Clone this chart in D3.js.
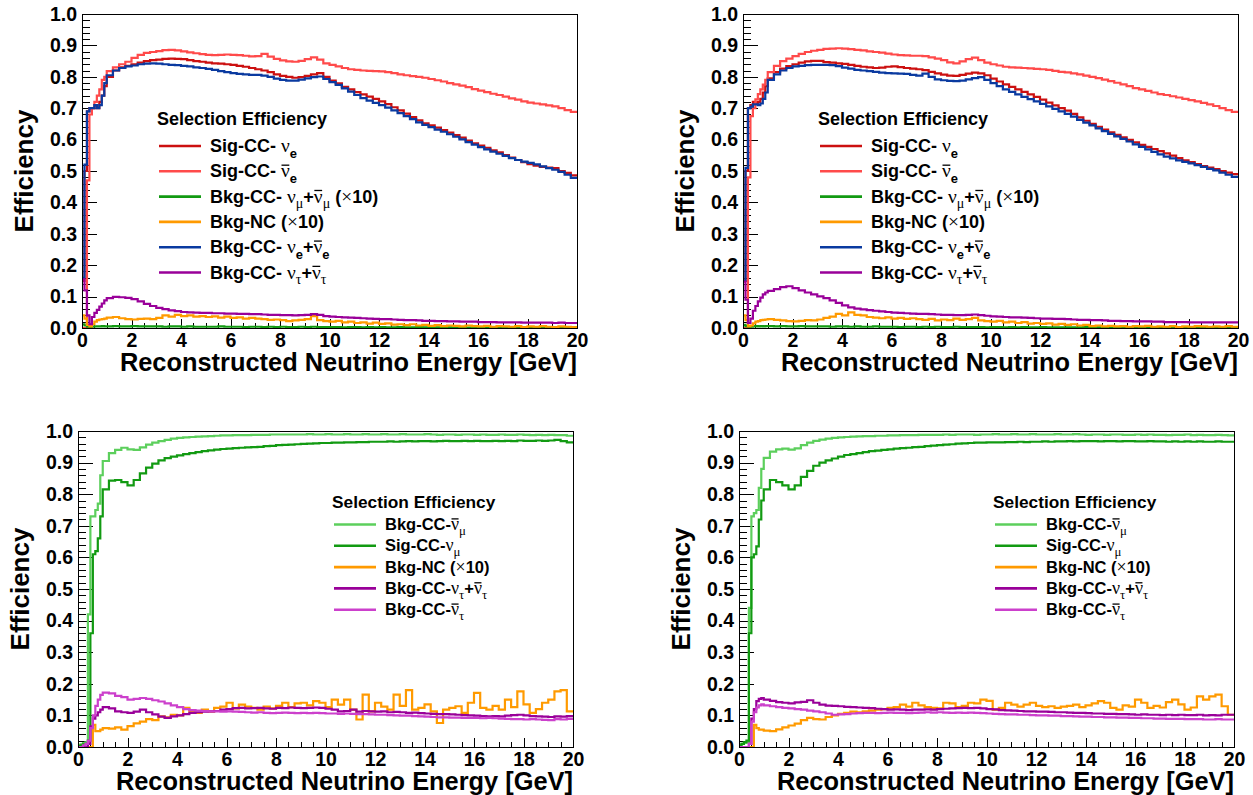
<!DOCTYPE html>
<html><head><meta charset="utf-8">
<script src="https://cdn.jsdelivr.net/npm/d3@7"></script>
<style>
html,body{margin:0;padding:0;background:#fff;}
svg{display:block;}
text{font-family:"Liberation Sans",Arial,Helvetica,sans-serif;}
</style></head><body>
<svg id="c" width="1253" height="795"></svg>
<script>
// ---------------- DATA ----------------
const binEdges = [0,0.1,0.2,0.3,0.4,0.5,0.6,0.7,0.8,0.9,1,
1.25,1.5,1.75,2,2.25,2.5,2.75,3,
3.25,3.5,3.75,4,4.25,4.5,4.75,5,
5.25,5.5,5.75,6,6.25,6.5,6.75,7,
7.25,7.5,7.75,8,8.25,8.5,8.75,9,
9.25,9.5,9.75,10,10.25,10.5,10.75,11,
11.25,11.5,11.75,12,12.25,12.5,12.75,13,
13.25,13.5,13.75,14,14.25,14.5,14.75,15,
15.25,15.5,15.75,16,16.25,16.5,16.75,17,
17.25,17.5,17.75,18,18.25,18.5,18.75,19,
19.25,19.5,19.75,20];

const xTickValues = [0,2,4,6,8,10,12,14,16,18,20];
const xTickLabels = ["0","2","4","6","8","10","12","14","16","18","20"];
const yTickValues = [0,0.1,0.2,0.3,0.4,0.5,0.6,0.7,0.8,0.9,1.0];
const yTickLabels = ["0.0","0.1","0.2","0.3","0.4","0.5","0.6","0.7","0.8","0.9","1.0"];

// Panel 1 (top-left)
const p1SigNue = [0.15,0.50,0.69,0.70,0.70,0.71,0.70,0.72,0.74,0.77,
0.800,0.820,0.830,0.835,0.840,0.845,0.850,0.853,
0.855,0.857,0.858,0.857,0.856,0.853,0.850,0.848,
0.845,0.843,0.842,0.840,0.838,0.835,0.832,0.828,
0.824,0.820,0.815,0.808,0.803,0.800,0.797,0.799,
0.803,0.808,0.812,0.800,0.788,0.779,0.768,0.760,
0.751,0.744,0.737,0.730,0.722,0.713,0.703,0.693,
0.683,0.672,0.661,0.652,0.645,0.638,0.630,0.622,
0.614,0.606,0.597,0.588,0.581,0.574,0.566,0.559,
0.551,0.543,0.535,0.528,0.522,0.517,0.513,0.511,
0.509,0.500,0.494,0.486];
const p1SigNuebar = [0,0,0.47,0.68,0.70,0.72,0.74,0.76,0.79,0.80,
0.818,0.830,0.840,0.848,0.860,0.870,0.876,0.879,
0.882,0.885,0.886,0.884,0.881,0.878,0.875,0.872,
0.870,0.869,0.870,0.871,0.870,0.869,0.867,0.865,
0.866,0.873,0.864,0.857,0.852,0.849,0.848,0.851,
0.856,0.862,0.855,0.843,0.838,0.833,0.828,0.824,
0.822,0.820,0.819,0.818,0.817,0.815,0.812,0.808,
0.805,0.802,0.800,0.797,0.793,0.789,0.785,0.780,
0.776,0.772,0.767,0.761,0.756,0.751,0.746,0.742,
0.737,0.731,0.727,0.722,0.718,0.715,0.712,0.709,
0.706,0.700,0.694,0.688];
const p1BkgNumu = [0.012,0.008,0.004,0.003,0.004,0.005,0.005,0.005,0.006,0.005,
0.005,0.006,0.005,0.005,0.006,0.005,0.005,0.005,
0.005,0.004,0.005,0.005,0.004,0.005,0.004,0.004,
0.004,0.004,0.005,0.004,0.004,0.004,0.003,0.004,
0.004,0.003,0.004,0.003,0.004,0.003,0.003,0.004,
0.003,0.004,0.003,0.003,0.003,0.003,0.002,0.003,
0.003,0.002,0.003,0.002,0.003,0.002,0.002,0.003,
0.002,0.002,0.003,0.002,0.002,0.002,0.002,0.002,
0.002,0.002,0.001,0.002,0.002,0.001,0.002,0.002,
0.001,0.002,0.002,0.001,0.002,0.001,0.002,0.001,
0.002,0.001,0.002,0.001];
const p1BkgNC = [0.04,0.03,0.01,0.005,0.012,0.02,0.025,0.027,0.028,0.030,
0.033,0.035,0.031,0.028,0.027,0.029,0.030,0.028,
0.032,0.040,0.036,0.042,0.038,0.040,0.036,0.038,
0.035,0.037,0.033,0.036,0.032,0.034,0.030,0.032,
0.030,0.028,0.026,0.027,0.025,0.022,0.024,0.026,
0.028,0.038,0.025,0.022,0.020,0.023,0.018,0.020,
0.016,0.018,0.014,0.017,0.013,0.015,0.011,0.012,
0.009,0.012,0.008,0.010,0.007,0.009,0.006,0.008,
0.007,0.005,0.008,0.006,0.005,0.007,0.004,0.006,
0.005,0.004,0.006,0.003,0.005,0.004,0.006,0.004,
0.003,0.005,0.004,0.003];
const p1BkgNue = [0.16,0.52,0.69,0.70,0.70,0.71,0.70,0.71,0.74,0.78,
0.805,0.820,0.828,0.833,0.836,0.840,0.842,0.843,
0.842,0.840,0.838,0.837,0.835,0.833,0.830,0.828,
0.825,0.822,0.818,0.815,0.812,0.809,0.808,0.806,
0.806,0.804,0.800,0.794,0.790,0.788,0.788,0.791,
0.795,0.799,0.801,0.793,0.783,0.774,0.763,0.753,
0.742,0.732,0.724,0.717,0.710,0.702,0.693,0.684,
0.675,0.665,0.655,0.647,0.640,0.632,0.625,0.617,
0.609,0.601,0.592,0.584,0.576,0.569,0.562,0.555,
0.548,0.541,0.535,0.530,0.526,0.521,0.515,0.509,
0.504,0.497,0.488,0.478];
const p1BkgNutau = [0.155,0.12,0.04,0.012,0.035,0.048,0.058,0.068,0.078,0.088,
0.095,0.099,0.098,0.096,0.092,0.085,0.077,0.070,
0.064,0.060,0.056,0.054,0.051,0.050,0.049,0.048,
0.048,0.047,0.047,0.046,0.046,0.045,0.045,0.044,
0.044,0.043,0.042,0.042,0.041,0.041,0.040,0.041,
0.042,0.044,0.042,0.038,0.036,0.035,0.034,0.033,
0.032,0.031,0.030,0.029,0.028,0.028,0.027,0.026,
0.025,0.025,0.024,0.023,0.023,0.022,0.022,0.021,
0.021,0.020,0.020,0.020,0.019,0.019,0.019,0.018,
0.018,0.018,0.018,0.017,0.017,0.017,0.017,0.017,
0.016,0.017,0.016,0.016];

// Panel 2 (top-right)
const p2SigNue = [0.15,0.50,0.70,0.71,0.72,0.715,0.72,0.73,0.75,0.77,
0.795,0.815,0.826,0.834,0.840,0.845,0.849,0.851,
0.851,0.847,0.845,0.843,0.841,0.838,0.835,0.832,
0.830,0.828,0.829,0.832,0.833,0.831,0.828,0.826,
0.824,0.821,0.816,0.811,0.807,0.804,0.803,0.806,
0.810,0.813,0.811,0.805,0.794,0.785,0.776,0.768,
0.760,0.752,0.744,0.736,0.727,0.718,0.709,0.700,
0.692,0.682,0.671,0.660,0.650,0.641,0.632,0.623,
0.615,0.607,0.599,0.591,0.583,0.577,0.570,0.563,
0.556,0.549,0.541,0.534,0.528,0.522,0.516,0.511,
0.506,0.500,0.495,0.490];
const p2SigNuebar = [0,0,0.48,0.675,0.70,0.728,0.745,0.76,0.775,0.79,
0.815,0.835,0.850,0.858,0.866,0.873,0.879,0.883,
0.886,0.889,0.890,0.891,0.890,0.888,0.886,0.884,
0.881,0.879,0.877,0.874,0.871,0.869,0.868,0.867,
0.867,0.866,0.862,0.858,0.853,0.846,0.843,0.849,
0.856,0.861,0.853,0.845,0.840,0.836,0.832,0.830,
0.829,0.828,0.827,0.825,0.824,0.822,0.819,0.816,
0.814,0.811,0.808,0.804,0.800,0.796,0.791,0.786,
0.781,0.776,0.770,0.764,0.760,0.755,0.750,0.745,
0.742,0.738,0.734,0.730,0.726,0.722,0.717,0.712,
0.707,0.700,0.694,0.688];
const p2BkgNumu = [0.01,0.006,0.003,0.004,0.005,0.006,0.005,0.006,0.005,0.006,
0.006,0.005,0.006,0.005,0.005,0.006,0.005,0.005,
0.005,0.005,0.004,0.005,0.005,0.004,0.005,0.004,
0.004,0.005,0.004,0.004,0.004,0.003,0.004,0.004,
0.003,0.004,0.003,0.004,0.003,0.003,0.004,0.003,
0.003,0.003,0.003,0.002,0.003,0.003,0.002,0.003,
0.002,0.003,0.002,0.002,0.003,0.002,0.002,0.002,
0.002,0.002,0.002,0.003,0.002,0.002,0.001,0.002,
0.002,0.001,0.002,0.002,0.001,0.002,0.002,0.001,
0.002,0.001,0.002,0.001,0.001,0.002,0.001,0.002,
0.001,0.002,0.001,0.001];
const p2BkgNC = [0.04,0.025,0.005,0.008,0.015,0.02,0.022,0.025,0.026,0.027,
0.028,0.026,0.024,0.022,0.021,0.023,0.025,0.024,
0.027,0.032,0.036,0.045,0.040,0.050,0.042,0.040,
0.035,0.033,0.031,0.034,0.030,0.032,0.029,0.031,
0.028,0.026,0.029,0.024,0.027,0.025,0.030,0.026,
0.028,0.032,0.024,0.022,0.020,0.023,0.018,0.020,
0.016,0.019,0.014,0.016,0.013,0.015,0.011,0.013,
0.010,0.012,0.008,0.010,0.006,0.008,0.005,0.007,
0.005,0.006,0.004,0.006,0.005,0.007,0.004,0.005,
0.004,0.006,0.003,0.005,0.004,0.006,0.005,0.004,
0.005,0.004,0.006,0.004];
const p2BkgNue = [0.15,0.51,0.70,0.705,0.712,0.712,0.71,0.715,0.73,0.75,
0.790,0.808,0.820,0.828,0.833,0.835,0.837,0.838,
0.838,0.838,0.837,0.834,0.829,0.826,0.822,0.820,
0.818,0.816,0.813,0.812,0.811,0.810,0.809,0.806,
0.804,0.810,0.800,0.792,0.789,0.787,0.786,0.788,
0.792,0.796,0.799,0.790,0.780,0.770,0.760,0.752,
0.744,0.736,0.729,0.722,0.714,0.706,0.698,0.690,
0.682,0.673,0.663,0.654,0.645,0.636,0.627,0.618,
0.610,0.602,0.594,0.585,0.577,0.569,0.561,0.553,
0.546,0.540,0.534,0.529,0.524,0.519,0.513,0.507,
0.502,0.495,0.488,0.481];
const p2BkgNutau = [0.148,0.09,0.016,0.03,0.055,0.07,0.085,0.097,0.107,0.113,
0.118,0.124,0.130,0.133,0.127,0.120,0.113,0.107,
0.101,0.095,0.088,0.080,0.072,0.066,0.062,0.059,
0.057,0.055,0.053,0.051,0.049,0.048,0.047,0.046,
0.045,0.045,0.044,0.043,0.042,0.042,0.041,0.041,
0.042,0.043,0.041,0.039,0.037,0.036,0.035,0.034,
0.034,0.033,0.032,0.031,0.030,0.030,0.029,0.029,
0.028,0.027,0.026,0.026,0.025,0.025,0.024,0.023,
0.023,0.022,0.022,0.021,0.021,0.021,0.020,0.020,
0.019,0.019,0.019,0.019,0.018,0.018,0.018,0.018,
0.018,0.018,0.018,0.018];

// Panel 3 (bottom-left)
const p3BkgNumubar = [0.005,0.008,0.012,0.015,0.42,0.73,0.73,0.75,0.77,0.86,
0.905,0.930,0.940,0.947,0.942,0.940,0.948,0.957,
0.963,0.968,0.972,0.976,0.978,0.980,0.981,0.982,
0.983,0.984,0.985,0.986,0.986,0.987,0.987,0.987,
0.988,0.988,0.988,0.989,0.989,0.989,0.989,0.989,
0.989,0.990,0.989,0.989,0.990,0.989,0.989,0.990,
0.989,0.989,0.990,0.989,0.989,0.990,0.989,0.989,
0.990,0.989,0.989,0.989,0.990,0.989,0.988,0.989,
0.989,0.988,0.989,0.989,0.988,0.989,0.988,0.988,
0.989,0.988,0.988,0.989,0.988,0.987,0.988,0.987,
0.988,0.987,0.987,0.985];
const p3SigNumu = [0.003,0.005,0.008,0.01,0.02,0.36,0.61,0.62,0.66,0.73,
0.815,0.843,0.845,0.838,0.828,0.845,0.866,0.884,
0.897,0.907,0.914,0.919,0.923,0.927,0.930,0.933,
0.936,0.939,0.941,0.943,0.944,0.946,0.947,0.948,
0.949,0.950,0.952,0.953,0.955,0.956,0.957,0.958,
0.959,0.960,0.961,0.962,0.962,0.963,0.963,0.964,
0.964,0.965,0.965,0.966,0.966,0.966,0.967,0.966,
0.967,0.968,0.967,0.968,0.968,0.967,0.968,0.969,
0.968,0.968,0.969,0.968,0.969,0.968,0.968,0.969,
0.968,0.969,0.968,0.970,0.969,0.969,0.970,0.969,
0.970,0.972,0.968,0.964];
const p3BkgNC = [0,0,0,0,0,0,0.07,0.05,0.05,0.055,
0.060,0.058,0.062,0.055,0.066,0.075,0.080,0.088,
0.085,0.097,0.094,0.102,0.100,0.124,0.113,0.108,
0.118,0.112,0.124,0.128,0.140,0.122,0.134,0.128,
0.124,0.118,0.128,0.122,0.130,0.140,0.126,0.138,
0.140,0.132,0.145,0.140,0.126,0.150,0.134,0.150,
0.118,0.087,0.166,0.113,0.140,0.128,0.118,0.166,
0.130,0.180,0.118,0.124,0.135,0.113,0.076,0.118,
0.124,0.129,0.108,0.140,0.171,0.124,0.118,0.130,
0.118,0.150,0.126,0.176,0.135,0.108,0.120,0.140,
0.150,0.176,0.180,0.113];
const p3BkgNutau = [0,0,0,0,0.01,0.065,0.09,0.10,0.11,0.118,
0.126,0.122,0.113,0.110,0.108,0.112,0.118,0.110,
0.103,0.096,0.092,0.097,0.100,0.104,0.108,0.110,
0.112,0.113,0.114,0.118,0.120,0.123,0.124,0.122,
0.123,0.124,0.122,0.121,0.124,0.123,0.125,0.124,
0.123,0.124,0.125,0.124,0.121,0.118,0.113,0.114,
0.118,0.112,0.114,0.113,0.112,0.113,0.110,0.111,
0.110,0.108,0.109,0.107,0.106,0.105,0.104,0.104,
0.103,0.102,0.101,0.100,0.099,0.098,0.097,0.098,
0.097,0.099,0.101,0.102,0.100,0.098,0.097,0.096,
0.095,0.097,0.096,0.098];
const p3BkgNutaubar = [0,0,0.005,0.01,0.02,0.06,0.10,0.13,0.15,0.165,
0.172,0.170,0.162,0.158,0.150,0.152,0.155,0.152,
0.148,0.144,0.138,0.132,0.126,0.120,0.117,0.115,
0.114,0.113,0.113,0.112,0.113,0.112,0.111,0.110,
0.109,0.110,0.108,0.107,0.108,0.109,0.108,0.107,
0.108,0.107,0.108,0.107,0.106,0.106,0.105,0.106,
0.105,0.104,0.104,0.103,0.102,0.102,0.101,0.100,
0.099,0.099,0.098,0.097,0.096,0.095,0.094,0.094,
0.093,0.093,0.092,0.092,0.092,0.091,0.092,0.091,
0.090,0.089,0.088,0.088,0.087,0.088,0.087,0.086,
0.085,0.088,0.087,0.089];

// Panel 4 (bottom-right)
const p4BkgNumubar = [0.005,0.01,0.013,0.015,0.44,0.73,0.74,0.75,0.82,0.88,
0.915,0.935,0.942,0.944,0.941,0.945,0.955,0.963,
0.969,0.973,0.976,0.978,0.980,0.981,0.982,0.983,
0.984,0.984,0.985,0.985,0.986,0.986,0.987,0.987,
0.987,0.988,0.988,0.988,0.988,0.989,0.988,0.989,
0.989,0.989,0.988,0.989,0.989,0.990,0.989,0.989,
0.990,0.989,0.989,0.990,0.989,0.989,0.989,0.990,
0.989,0.989,0.990,0.989,0.988,0.989,0.989,0.988,
0.989,0.989,0.988,0.988,0.989,0.988,0.989,0.988,
0.988,0.987,0.988,0.988,0.989,0.987,0.988,0.987,
0.987,0.988,0.987,0.986];
const p4SigNumu = [0.005,0.01,0.015,0.02,0.36,0.60,0.61,0.635,0.72,0.78,
0.815,0.845,0.838,0.828,0.815,0.828,0.855,0.874,
0.890,0.900,0.907,0.913,0.919,0.924,0.927,0.930,
0.933,0.936,0.938,0.940,0.942,0.944,0.946,0.947,
0.949,0.950,0.952,0.954,0.955,0.957,0.958,0.960,
0.961,0.962,0.963,0.963,0.964,0.964,0.964,0.965,
0.965,0.966,0.965,0.966,0.966,0.967,0.966,0.967,
0.967,0.968,0.967,0.968,0.968,0.968,0.967,0.968,
0.968,0.967,0.968,0.968,0.967,0.967,0.968,0.967,
0.967,0.966,0.967,0.966,0.967,0.966,0.967,0.966,
0.966,0.967,0.966,0.966];
const p4BkgNC = [0,0,0,0,0,0,0.07,0.06,0.055,0.055,
0.052,0.050,0.056,0.062,0.068,0.074,0.085,0.092,
0.088,0.087,0.095,0.100,0.105,0.108,0.112,0.110,
0.113,0.115,0.118,0.120,0.124,0.126,0.134,0.128,
0.140,0.132,0.126,0.124,0.122,0.140,0.138,0.126,
0.130,0.140,0.138,0.150,0.146,0.118,0.124,0.140,
0.134,0.128,0.134,0.140,0.130,0.126,0.129,0.124,
0.128,0.130,0.134,0.126,0.132,0.138,0.145,0.140,
0.124,0.118,0.132,0.128,0.150,0.140,0.124,0.130,
0.125,0.142,0.150,0.135,0.118,0.125,0.160,0.150,
0.160,0.166,0.129,0.102];
const p4BkgNutau = [0,0,0,0,0.01,0.09,0.12,0.145,0.152,0.155,
0.150,0.146,0.142,0.140,0.138,0.141,0.143,0.148,
0.140,0.134,0.131,0.130,0.129,0.127,0.126,0.125,
0.124,0.123,0.121,0.120,0.118,0.119,0.118,0.117,
0.118,0.118,0.119,0.118,0.120,0.121,0.122,0.123,
0.124,0.123,0.124,0.122,0.120,0.119,0.117,0.116,
0.115,0.114,0.113,0.113,0.112,0.112,0.111,0.110,
0.110,0.109,0.108,0.108,0.107,0.106,0.106,0.105,
0.105,0.104,0.104,0.103,0.102,0.103,0.102,0.102,
0.101,0.102,0.101,0.102,0.101,0.101,0.102,0.100,
0.101,0.100,0.102,0.102];
const p4BkgNutaubar = [0,0,0,0,0.01,0.08,0.11,0.125,0.132,0.135,
0.132,0.129,0.126,0.124,0.122,0.120,0.118,0.115,
0.113,0.110,0.106,0.102,0.103,0.104,0.106,0.107,
0.108,0.108,0.107,0.108,0.109,0.108,0.108,0.107,
0.108,0.109,0.110,0.109,0.110,0.109,0.108,0.109,
0.108,0.109,0.108,0.107,0.106,0.105,0.104,0.103,
0.103,0.102,0.102,0.101,0.100,0.100,0.099,0.099,
0.098,0.098,0.097,0.096,0.096,0.095,0.095,0.094,
0.094,0.093,0.093,0.092,0.092,0.091,0.091,0.090,
0.090,0.089,0.089,0.089,0.088,0.088,0.088,0.087,
0.087,0.088,0.087,0.087];

// Legend labels (segments: g = greek glyph, s = subscript, bar = overline)
const legendTitle = "Selection Efficiency";
const labSigNue = [{t:"Sig-CC- "},{t:"ν",g:1},{t:"e",s:1}];
const labSigNuebar = [{t:"Sig-CC- "},{t:"ν",g:1,bar:1},{t:"e",s:1}];
const labBkgNumuX10 = [{t:"Bkg-CC- "},{t:"ν",g:1},{t:"μ",g:1,s:1},{t:"+"},{t:"ν",g:1,bar:1},{t:"μ",g:1,s:1},{t:" ("},{t:"×",g:1},{t:"10)"}];
const labBkgNC = [{t:"Bkg-NC ("},{t:"×",g:1},{t:"10)"}];
const labBkgNue = [{t:"Bkg-CC- "},{t:"ν",g:1},{t:"e",s:1},{t:"+"},{t:"ν",g:1,bar:1},{t:"e",s:1}];
const labBkgNutau = [{t:"Bkg-CC- "},{t:"ν",g:1},{t:"τ",g:1,s:1},{t:"+"},{t:"ν",g:1,bar:1},{t:"τ",g:1,s:1}];
const labBkgNumubar = [{t:"Bkg-CC-"},{t:"ν",g:1,bar:1},{t:"μ",g:1,s:1}];
const labSigNumu = [{t:"Sig-CC-"},{t:"ν",g:1},{t:"μ",g:1,s:1}];
const labBkgNCb = [{t:"Bkg-NC ("},{t:"×",g:1},{t:"10)"}];
const labBkgNutauB = [{t:"Bkg-CC-"},{t:"ν",g:1},{t:"τ",g:1,s:1},{t:"+"},{t:"ν",g:1,bar:1},{t:"τ",g:1,s:1}];
const labBkgNutaubar = [{t:"Bkg-CC-"},{t:"ν",g:1,bar:1},{t:"τ",g:1,s:1}];

// colours
const cDarkRed="#cc1010", cLightRed="#ff4a4a", cGreen="#129a12", cOrange="#ff9a00",
      cBlue="#0a3aa0", cPurple="#990099", cLightGreen="#5ccf5c", cMagenta="#cc40cc";

// ---------------- LAYOUT ----------------
const topSeries = (a,b,c,d,e,f)=>[
  {v:a,col:cDarkRed,lab:labSigNue},{v:b,col:cLightRed,lab:labSigNuebar},
  {v:c,col:cGreen,lab:labBkgNumuX10},{v:d,col:cOrange,lab:labBkgNC},
  {v:e,col:cBlue,lab:labBkgNue},{v:f,col:cPurple,lab:labBkgNutau}];
const botSeries = (a,b,c,d,e)=>[
  {v:a,col:cLightGreen,lab:labBkgNumubar},{v:b,col:cGreen,lab:labSigNumu},
  {v:c,col:cOrange,lab:labBkgNCb},{v:d,col:cPurple,lab:labBkgNutauB},
  {v:e,col:cMagenta,lab:labBkgNutaubar}];

const topLeg = {tx:75, ty:111, lx0:77, lx1:119, ly:132, dy:25.3, textX:128, fs:18, tfs:18};
const botLeg = {tx:254, ty:77, lx0:256, lx1:298, ly:93.5, dy:21.3, textX:307, fs:16.5, tfs:17.3};

const panels = [
  {id:1,left:82,right:577,top:14,bottom:328,series:topSeries(p1SigNue,p1SigNuebar,p1BkgNumu,p1BkgNC,p1BkgNue,p1BkgNutau),leg:topLeg},
  {id:2,left:743,right:1238,top:14,bottom:328,series:topSeries(p2SigNue,p2SigNuebar,p2BkgNumu,p2BkgNC,p2BkgNue,p2BkgNutau),leg:topLeg},
  {id:3,left:78,right:573,top:431,bottom:747,series:botSeries(p3BkgNumubar,p3SigNumu,p3BkgNC,p3BkgNutau,p3BkgNutaubar),leg:botLeg},
  {id:4,left:739,right:1234,top:431,bottom:747,series:botSeries(p4BkgNumubar,p4SigNumu,p4BkgNC,p4BkgNutau,p4BkgNutaubar),leg:botLeg}
];

const svg = d3.select("#c");
const greekFont = "'Liberation Serif','DejaVu Serif',serif";

function legendEntry(g, x, yMid, segs, fs) {
  const base = yMid + fs*0.34;
  const t = g.append("text").attr("x", x).attr("y", base)
    .attr("font-size", fs).attr("font-weight", "bold").attr("fill", "#000")
    .attr("xml:space", "preserve").style("white-space", "pre");
  let shift = 0, idx = 0; const bars = [];
  segs.forEach(s => {
    const target = s.s ? fs*0.3 : 0;
    const ts = t.append("tspan").text(s.t);
    if (target - shift !== 0) ts.attr("dy", target - shift);
    shift = target;
    if (s.s) ts.attr("font-size", fs*0.72);
    if (s.g) ts.attr("font-family", greekFont).attr("font-weight", "normal").attr("font-size", s.s ? fs*0.78 : fs*1.08);
    if (s.bar) bars.push(idx);
    idx += s.t.length;
  });
  bars.forEach(i => {
    const r = t.node().getExtentOfChar(i);
    g.append("line").attr("x1", r.x + 0.5).attr("x2", r.x + r.width - 0.5)
      .attr("y1", base - fs*0.68).attr("y2", base - fs*0.68)
      .attr("stroke", "#000").attr("stroke-width", 1.3);
  });
}

panels.forEach(p => {
  const x = d3.scaleLinear().domain([0,20]).range([p.left, p.right]);
  const y = d3.scaleLinear().domain([0,1]).range([p.bottom, p.top]);
  const g = svg.append("g");
  const clipId = "clip" + p.id;
  g.append("clipPath").attr("id", clipId).append("rect")
    .attr("x", p.left).attr("y", p.top).attr("width", p.right - p.left).attr("height", p.bottom - p.top + 1);

  const yMinor = d3.range(0, 1.0001, 0.02).filter(v => Math.abs(v*10 - Math.round(v*10)) > 1e-6);
  const xMinor = d3.range(0, 20.0001, 0.5).filter(v => Math.abs(v/2 - Math.round(v/2)) > 1e-6);

  const styleAxis = sel => {
    sel.select(".domain").remove();
    sel.selectAll("line").attr("stroke", "#000").attr("shape-rendering", "crispEdges");
    sel.selectAll("text").attr("font-size", 19.5).attr("font-weight", "bold")
      .attr("font-family", "'Liberation Sans',Arial,sans-serif").attr("fill", "#000");
  };
  g.append("g").attr("transform", `translate(${p.left},0)`)
    .call(d3.axisLeft(y).tickValues(yMinor).tickSize(-7.5).tickFormat("")).call(styleAxis);
  g.append("g").attr("transform", `translate(${p.left},0)`)
    .call(d3.axisLeft(y).tickValues(yTickValues).tickSize(-15).tickPadding(5)
      .tickFormat((d,i) => yTickLabels[i])).call(styleAxis);
  g.append("g").attr("transform", `translate(0,${p.bottom})`)
    .call(d3.axisBottom(x).tickValues(xMinor).tickSize(-4.7).tickFormat("")).call(styleAxis);
  g.append("g").attr("transform", `translate(0,${p.bottom})`)
    .call(d3.axisBottom(x).tickValues(xTickValues).tickSize(-9.5).tickPadding(5)
      .tickFormat((d,i) => xTickLabels[i])).call(styleAxis);

  const line = d3.line().x(d => x(d[0])).y(d => y(d[1])).curve(d3.curveStepAfter);
  p.series.forEach(s => {
    const pts = s.v.map((v,i) => [binEdges[i], v]);
    pts.push([binEdges[binEdges.length-1], s.v[s.v.length-1]]);
    g.append("path").attr("d", line(pts)).attr("fill", "none")
      .attr("stroke", s.col).attr("stroke-width", 2.2).attr("clip-path", `url(#${clipId})`);
  });

  g.append("rect").attr("x", p.left).attr("y", p.top)
    .attr("width", p.right - p.left).attr("height", p.bottom - p.top)
    .attr("fill", "none").attr("stroke", "#000").attr("stroke-width", 1).attr("shape-rendering", "crispEdges");

  // axis titles
  g.append("text").attr("x", p.right).attr("y", p.bottom + 43).attr("text-anchor", "end")
    .attr("font-size", 25.4).attr("font-weight", "bold").text("Reconstructed Neutrino Energy [GeV]");
  g.append("text").attr("transform", `translate(${p.left - 49},${(p.top + p.bottom)/2}) rotate(-90)`)
    .attr("text-anchor", "middle").attr("font-size", 26).attr("font-weight", "bold").text("Efficiency");

  // legend
  const L = p.leg;
  g.append("text").attr("x", p.left + L.tx).attr("y", p.top + L.ty)
    .attr("font-size", L.tfs).attr("font-weight", "bold").text(legendTitle);
  p.series.forEach((s,i) => {
    const yy = p.top + L.ly + i*L.dy;
    g.append("line").attr("x1", p.left + L.lx0).attr("x2", p.left + L.lx1)
      .attr("y1", yy).attr("y2", yy).attr("stroke", s.col).attr("stroke-width", 2.6);
    legendEntry(g, p.left + L.textX, yy, s.lab, L.fs);
  });
});
</script>
</body></html>
